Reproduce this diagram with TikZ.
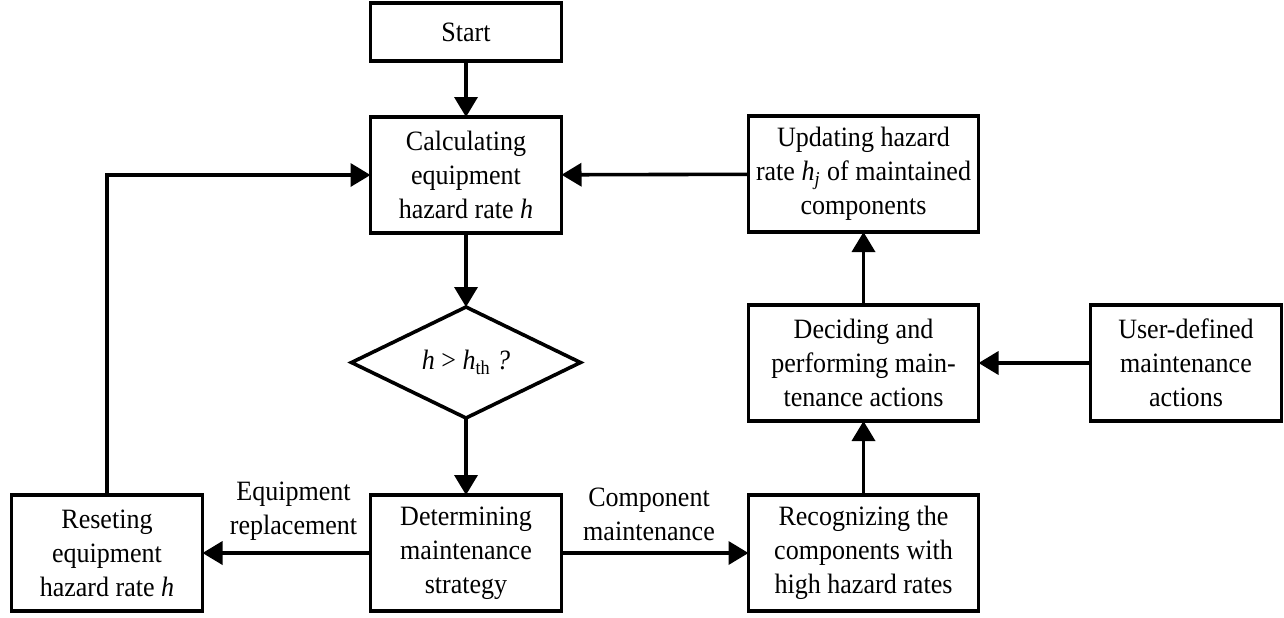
\documentclass[tikz,border=0pt]{standalone}
\usepackage{fontspec}
\setmainfont{Liberation Serif}[FakeStretch=0.93]
\usetikzlibrary{arrows.meta,positioning,shapes.geometric}

\begin{document}
\begin{tikzpicture}[-{Triangle[length=10pt,width=11.5pt]},line width=1.8pt,
    font=\fontsize{14}{17}\selectfont,
    block node/.style={rectangle,draw,align=center,outer sep=0pt,inner xsep=0pt,minimum width=95.5pt,minimum height=58pt},
    wide node/.style={block node,minimum width=115pt},
    decision node/.style={diamond,draw,align=center,outer sep=0pt,inner sep=0pt,shape aspect=2.06,minimum width=114.5pt,minimum height=55.5pt}]

  \useasboundingbox (0,0) rectangle (642pt,-308.5pt);

  \node[block node,minimum height=29pt] (start) at (233pt,-16pt) {Start};
  \node[block node]    (calc)     [below=28pt of start] {Calculating\\equipment\\hazard rate \textit{h}};
  \node[decision node] (check)    [below=37pt of calc] {\textit{h} > \textit{h}\textsubscript{th}\textit{ ?}};
  \node[block node]    (strategy) [below=38.5pt of check] {Determining\\maintenance\\strategy};
  \node[block node]    (reset)    [left=84pt of strategy] {Reseting\\equipment\\hazard rate \textit{h}};
  \node[wide node]     (recog)    [right=93.5pt of strategy] {Recognizing the\\components with\\high hazard rates};
  \node[wide node]     (decide)   [above=37pt of recog] {Deciding and\\performing main-\\tenance actions};
  \node[wide node]     (update)   [above=36.5pt of decide] {Updating hazard\\rate \textit{h\textsubscript{j}} of maintained\\components};
  \node[block node]    (user)     [right=56pt of decide] {User-defined\\maintenance\\actions};

  \draw (start) -- (calc);
  \draw (calc) -- (check);
  \draw (check) -- (strategy);
  \draw (strategy) -- node[above=2pt,xshift=3.5pt,align=center] {Equipment\\replacement} (reset);
  \draw (strategy) -- node[above=2pt,xshift=-3pt,align=center] {Component\\maintenance} (recog);
  \draw (recog) -- (decide);
  \draw (decide) -- (update);
  \draw (user) -- (decide);
  \draw (update) -- (calc);
  \draw (reset) |- (calc);

\end{tikzpicture}
\end{document}
